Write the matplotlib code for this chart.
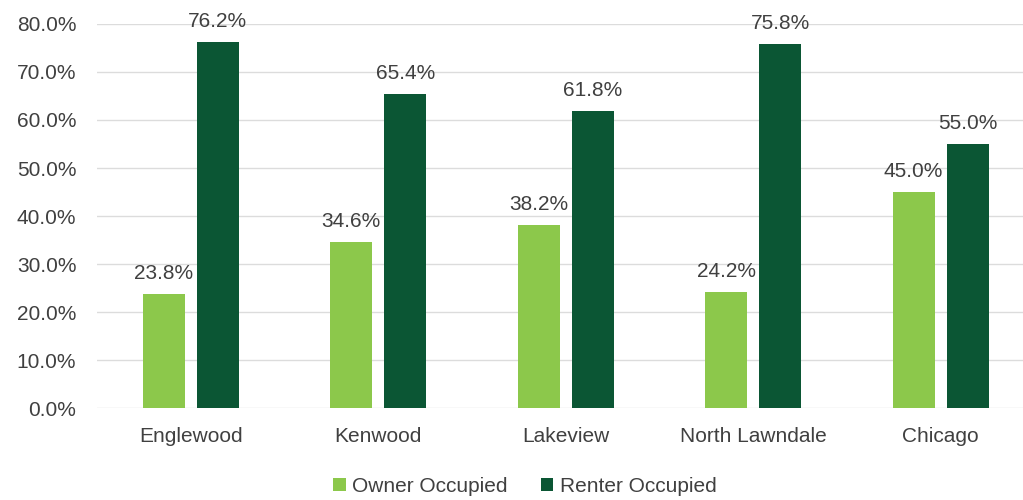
import numpy as np
import matplotlib
matplotlib.use('Agg')
import matplotlib.pyplot as plt

categories = ['Englewood', 'Kenwood', 'Lakeview', 'North Lawndale', 'Chicago']
owner = [23.8, 34.6, 38.2, 24.2, 45.0]
renter = [76.2, 65.4, 61.8, 75.8, 55.0]
yticks = [0, 10, 20, 30, 40, 50, 60, 70, 80]

LIGHT = '#8cc84b'
DARK = '#0b5634'
TXT = '#404040'

plt.rcParams['font.family'] = ['Liberation Sans', 'DejaVu Sans']

fig = plt.figure(figsize=(10.23, 5.0), dpi=100)
ax = fig.add_axes([0.095, 0.184, 0.905, 0.768])

x = np.arange(len(categories))
w = 0.224
off = 0.144
b1 = ax.bar(x - off, owner, w, color=LIGHT, label='Owner Occupied', zorder=3)
b2 = ax.bar(x + off, renter, w, color=DARK, label='Renter Occupied', zorder=3)
for bars, vals in ((b1, owner), (b2, renter)):
    for b, v in zip(bars, vals):
        ax.text(b.get_x() + b.get_width() / 2, v + 2.3, f'{v:.1f}%', ha='center', va='bottom',
                fontsize=15, color=TXT, clip_on=False)

ax.set_xlim(-0.5, 4.44)
ax.set_ylim(0, 80)
ax.set_yticks(yticks)
ax.set_yticklabels([f'{t:.1f}%' for t in yticks])
ax.set_xticks(x)
ax.set_xticklabels(categories)
ax.tick_params(axis='both', length=0, labelsize=15, labelcolor=TXT)
ax.tick_params(axis='x', pad=14)
ax.tick_params(axis='y', pad=15)
ax.grid(True, axis='y', color='#dcdcdc', linewidth=1, zorder=0)
for s in ax.spines.values():
    s.set_visible(False)

fig.legend(handles=[b1, b2], loc='center', bbox_to_anchor=(0.513, 0.027), ncol=2, frameon=False,
           fontsize=15, labelcolor=TXT, handlelength=0.6, handleheight=0.6, handletextpad=0.3,
           columnspacing=1.6)

fig.savefig('out.png', dpi=100)
